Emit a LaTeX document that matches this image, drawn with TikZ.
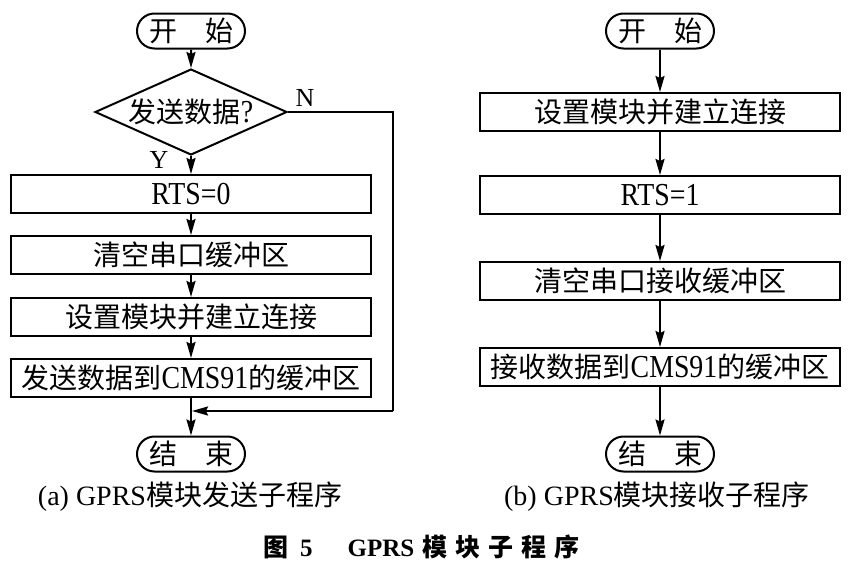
\documentclass[tikz,border=0pt]{standalone}
\usepackage{fontspec}
\setmainfont{Liberation Serif}
\newfontfamily\zh{Noto Sans CJK SC}
\newcommand\lat[1]{\scalebox{0.87}[1]{\fontsize{32}{34}\selectfont #1}}
\usetikzlibrary{arrows.meta,shapes.geometric,shapes.misc}
\begin{document}
\begin{tikzpicture}[x=1pt,y=-1pt,
  every node/.style={font=\fontsize{28}{30}\selectfont, inner sep=0pt},
  procbox/.style={draw, line width=2pt, minimum width=360pt, minimum height=38pt},
  termbox/.style={draw, line width=2pt, rounded rectangle, minimum width=108pt, minimum height=35pt},
  decbox/.style={draw, line width=2pt, diamond, minimum width=192pt, minimum height=72pt},
  lbl/.style={font=\fontsize{26}{28}\selectfont},
  flow/.style={line width=2pt, -{Stealth[length=16pt,width=9pt,inset=2pt]}},
  plain/.style={line width=2pt}
]
\useasboundingbox (0,0) rectangle (851,570);
\fill[white] (0,0) rectangle (851,570);
% ---- left flowchart
\node[termbox] (s1) at (191,31) {\zh 开\quad 始};
\node[decbox] (d) at (191,112) {\makebox[60pt][c]{{\zh 发送数据}\lat{?}}};
\node[procbox] (a1) at (191,194) {\lat{RTS=0}};
\node[procbox] (a2) at (191,255) {\zh 清空串口缓冲区};
\node[procbox] (a3) at (191,317) {\zh 设置模块并建立连接};
\node[procbox] (a4) at (191,378) {{\zh 发送数据到}\lat{CMS91}{\zh 的缓冲区}};
\node[termbox] (e1) at (191,454) {\zh 结\quad 束};
\node[lbl] (yl) at (159,160) {Y};
\node[lbl] (nl) at (305,98) {N};
\coordinate (nc) at (393,112);
\coordinate (nj) at (393,411);
\coordinate (j) at (191,411);
\draw[flow] (s1) -- (d);
\draw[flow] (d) -- (a1);
\draw[flow] (a1) -- (a2);
\draw[flow] (a2) -- (a3);
\draw[flow] (a3) -- (a4);
\draw[flow] (a4) -- (e1);
\draw[plain] (d.east) -- (nc) -- (nj);
\draw[flow] (nj) -- ([xshift=1pt]j);
\node (ca) at (190,497) {(a) GPRS{\zh 模块发送子程序}};
% ---- right flowchart
\node[termbox] (s2) at (660,31) {\zh 开\quad 始};
\node[procbox] (b1) at (660,112) {\zh 设置模块并建立连接};
\node[procbox] (b2) at (660,195) {\lat{RTS=1}};
\node[procbox] (b3) at (660,281) {\zh 清空串口接收缓冲区};
\node[procbox] (b4) at (660,367) {{\zh 接收数据到}\lat{CMS91}{\zh 的缓冲区}};
\node[termbox] (e2) at (660,454) {\zh 结\quad 束};
\draw[flow] (s2) -- (b1);
\draw[flow] (b1) -- (b2);
\draw[flow] (b2) -- (b3);
\draw[flow] (b3) -- (b4);
\draw[flow] (b4) -- (e2);
\node (cb) at (657,497) {(b) GPRS{\zh 模块接收子程序}};
% ---- figure caption
\node[anchor=west, font=\fontsize{25}{27}\selectfont\bfseries] (fig) at (263,547)
  {{\zh\bfseries 图}\hspace{12pt}5\hspace{35pt}GPRS\hspace{8pt}{\zh\bfseries 模\hspace{8pt}块\hspace{8pt}子\hspace{8pt}程\hspace{8pt}序}};
\end{tikzpicture}
\end{document}
